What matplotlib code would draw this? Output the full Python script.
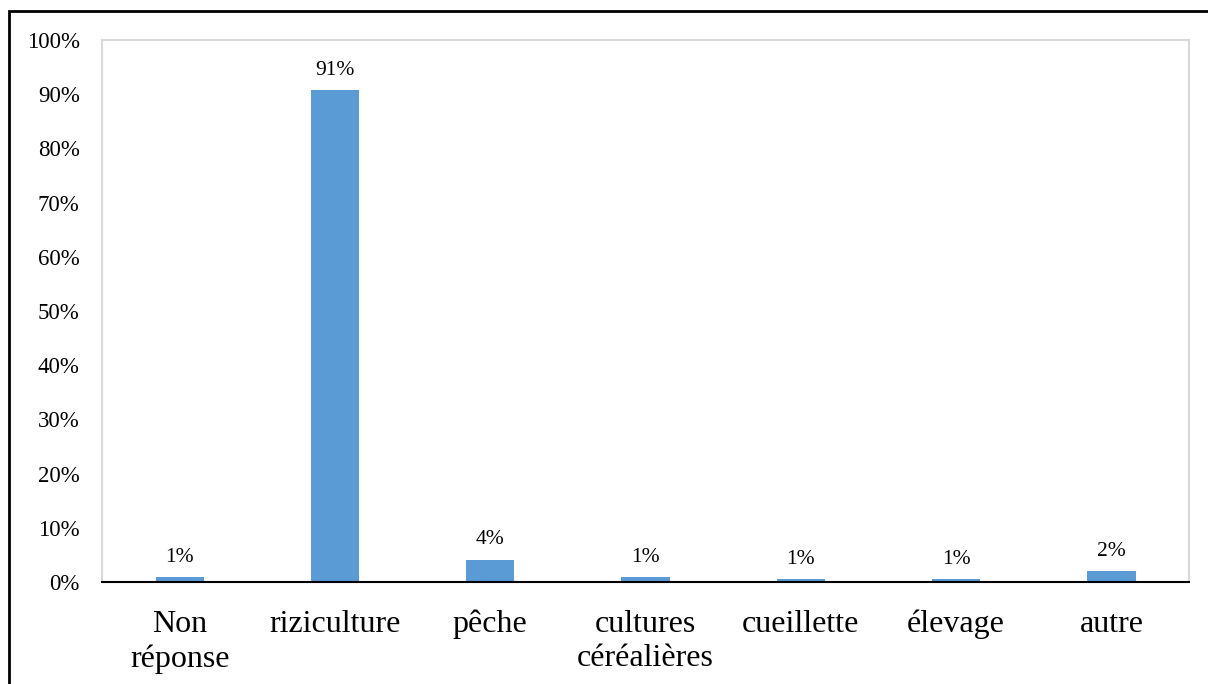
import matplotlib
matplotlib.use('Agg')
import matplotlib.pyplot as plt
from matplotlib.patches import Rectangle
from matplotlib.ticker import FuncFormatter

categories = ['Non\nréponse', 'riziculture', 'pêche', 'cultures\ncéréalières',
              'cueillette', 'élevage', 'autre']
values = [0.9, 90.8, 4.1, 0.9, 0.5, 0.5, 2.0]
value_labels = ['1%', '91%', '4%', '1%', '1%', '1%', '2%']

plt.rcParams['font.family'] = ['Liberation Serif', 'DejaVu Serif']

fig = plt.figure(figsize=(12.08, 6.84), dpi=100)
ax = fig.add_axes([0.0844, 0.1491, 0.9, 0.7924])

x = list(range(len(categories)))
bars = ax.bar(x, values, width=0.31, color='#5b9bd5')

for rect, lab in zip(bars, value_labels):
    ax.text(rect.get_x() + rect.get_width() / 2, rect.get_height() + 1.9, lab,
            ha='center', va='bottom', fontsize=15.5, color='black')

ax.set_ylim(0, 100)
ax.set_xlim(-0.5, len(categories) - 0.5)
ax.set_yticks(range(0, 101, 10))
ax.yaxis.set_major_formatter(FuncFormatter(lambda v, p: '%d%%' % v))
ax.set_xticks(x)
ax.set_xticklabels(categories, fontsize=23, linespacing=1.25)
ax.tick_params(axis='y', length=0, labelsize=16.5, pad=16)
ax.tick_params(axis='x', length=0, pad=20)

for s in ['left', 'top', 'right']:
    ax.spines[s].set_color('#d9d9d9')
    ax.spines[s].set_linewidth(1.5)
ax.spines['bottom'].set_color('black')
ax.spines['bottom'].set_linewidth(1.5)

# outer frame (only left and top edges visible)
fig.patches.append(Rectangle((0.0075, -0.1), 1.2, 1.0835, transform=fig.transFigure,
                             fill=False, edgecolor='black', linewidth=2))

fig.savefig('out.png', dpi=100)
